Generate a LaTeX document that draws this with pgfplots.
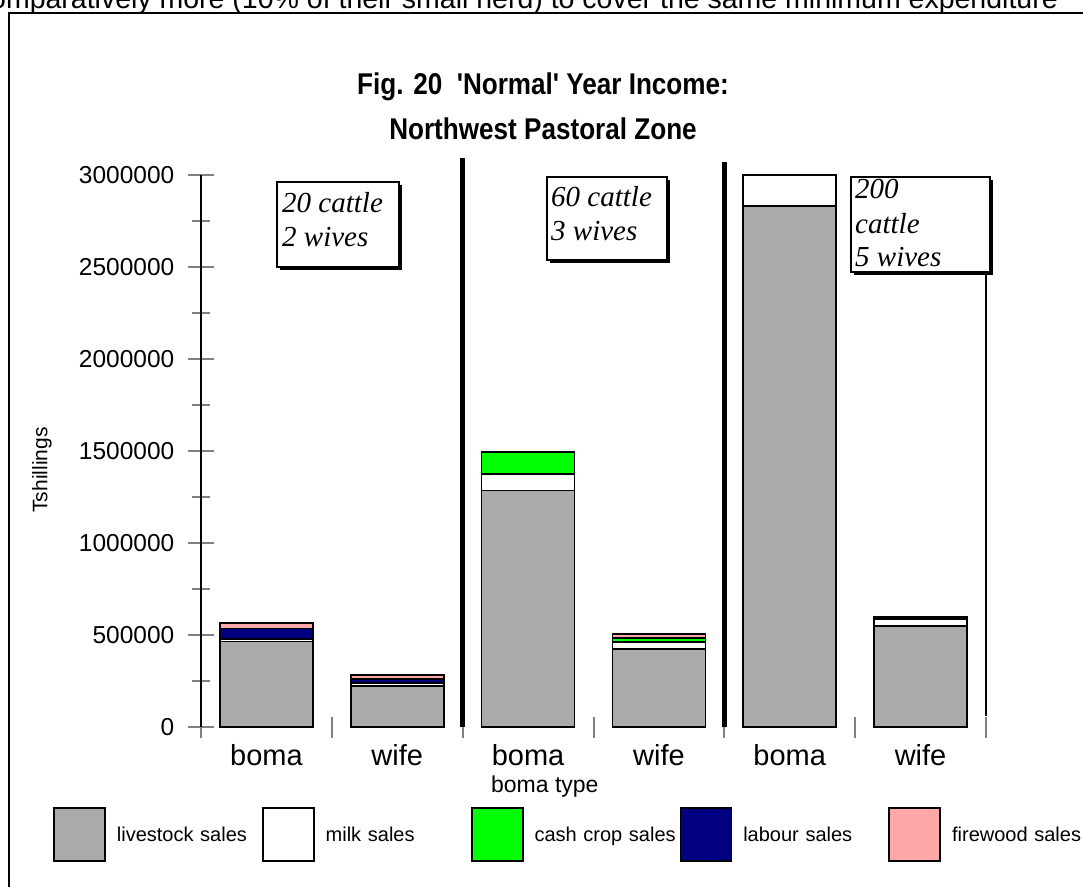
\documentclass[border=0pt]{standalone}
\usepackage{pgfplots}
\usepackage{pgfplotstable}
\pgfplotsset{compat=1.18}
\usepackage{fontspec}
\setmainfont{Liberation Sans}
\newfontfamily\serifit{Liberation Serif}
\definecolor{livegray}{HTML}{AAAAAA}
\definecolor{cashgreen}{HTML}{00FF00}
\definecolor{labnavy}{HTML}{000080}
\definecolor{firepink}{HTML}{FFA8A8}
\definecolor{tickgray}{HTML}{808080}
\pgfplotstableread{
x livestock milk cash labour firewood
0 465000 15000 0 55000 30000
1 225000 12000 0 25000 20000
2 1285000 90000 120000 0 0
3 425000 35000 22000 3000 20000
4 2830000 170000 0 0 0
5 550000 35000 0 15000 0
}\incomedata
\begin{document}
\begin{tikzpicture}[x=1pt,y=1pt]
\path[use as bounding box] (0,0) rectangle (1083,886);
\clip (0,0) rectangle (1083,886);
\node[anchor=base east, font=\fontsize{28.5}{32}\selectfont, inner sep=0pt] at (1058,877) {comparatively more (10\% of their small herd) to cover the same minimum expenditure};
\draw[line width=2.5pt] (9,-20) -- (9,873) -- (1100,873);
\begin{axis}[
  at={(201pt,159pt)}, anchor=south west, scale only axis,
  width=785pt, height=552pt,
  xmin=-0.5, xmax=5.5, ymin=0, ymax=3000000,
  ybar stacked, bar width=93pt,
  clip=false,
  axis lines=left, axis line style={-},
  x axis line style={draw=none},
  y axis line style={black, line width=1.6pt},
  xtick={-0.5,0.5,...,5.5},
  x tick label as interval,
  xticklabels={boma,wife,boma,wife,boma,wife},
  ytick={0,500000,...,3000000},
  minor y tick num=1,
  tick align=center,
  xtick style={tickgray, line width=2pt, /pgfplots/major tick length=21pt},
  ytick style={tickgray, line width=2pt},
  major tick length=25pt, minor tick length=17pt,
  scaled y ticks=false,
  yticklabel style={/pgf/number format/fixed, /pgf/number format/1000 sep={}, /pgf/number format/assume math mode=true,
    font=\fontsize{24.5}{28}\selectfont, anchor=east, inner sep=0pt, xshift=-14pt},
  xticklabel style={font=\fontsize{29}{33}\selectfont, anchor=base, inner sep=0pt, yshift=-26pt},
  xlabel={boma type},
  xlabel style={font=\fontsize{23}{27}\selectfont, at={(axis description cs:0.438,-0.108)}, anchor=center},
  ylabel={Tshillings},
  ylabel style={font=\fontsize{21}{25}\selectfont, at={(axis description cs:-0.2025,0.4656)}, anchor=center},
  title={Fig. 20 \ \textquotesingle Normal\textquotesingle\ Year Income:\\Northwest Pastoral Zone},
  title style={font=\bfseries\fontsize{30}{45}\selectfont, align=center, xscale=0.87, at={(axis description cs:0.4357,1.113)}, anchor=center},
  legend columns=5,
  legend cell align=left,
  legend image code/.code={\draw[#1, line width=1.8pt] (0pt,-26pt) rectangle (51pt,27pt);},
  legend style={draw=none, fill=none, inner sep=0pt, outer sep=0pt,
    at={(axis description cs:-0.1884,-0.1449)}, anchor=north west,
    font=\fontsize{20}{24}\selectfont,
    column sep=0pt,
    /tikz/every odd column/.append style={column sep=11pt},
    nodes={text width=145pt, inner xsep=0pt, align=left}},
]
\addplot[fill=livegray, draw=black, line width=1.8pt] table[x=x, y=livestock] {\incomedata};
\addlegendentry{livestock sales}
\addplot[fill=white, draw=black, line width=1.8pt] table[x=x, y=milk] {\incomedata};
\addlegendentry{milk sales}
\addplot[fill=cashgreen, draw=black, line width=1.8pt] table[x=x, y=cash] {\incomedata};
\addlegendentry{cash crop sales}
\addplot[fill=labnavy, draw=black, line width=1.8pt] table[x=x, y=labour] {\incomedata};
\addlegendentry{labour sales}
\addplot[fill=firepink, draw=black, line width=1.8pt] table[x=x, y=firewood] {\incomedata};
\addlegendentry{firewood sales}
\draw[line width=4.5pt] (axis cs:1.5,0) -- (axis cs:1.5,3090000);
\draw[line width=4.5pt] (axis cs:3.5,0) -- (axis cs:3.5,3070000);
\draw[line width=2pt] (axis cs:5.5,60000) -- (axis cs:5.5,2950000);
\end{axis}
% annotation boxes
\fill (280,616) rectangle (402,701);
\draw[fill=white, line width=1.8pt] (277,619) rectangle (399,704);
\node[anchor=base west, inner sep=0pt, font=\serifit\itshape\fontsize{29}{33}\selectfont] at (282,673) {20 cattle};
\node[anchor=base west, inner sep=0pt, font=\serifit\itshape\fontsize{29}{33}\selectfont] at (282,639) {2 wives};
\fill (550,623) rectangle (670,706);
\draw[fill=white, line width=1.8pt] (547,626) rectangle (667,709);
\node[anchor=base west, inner sep=0pt, font=\serifit\itshape\fontsize{29}{33}\selectfont] at (551,679) {60 cattle};
\node[anchor=base west, inner sep=0pt, font=\serifit\itshape\fontsize{29}{33}\selectfont] at (551,645) {3 wives};
\fill (854,611) rectangle (993,706);
\draw[fill=white, line width=1.8pt] (851,614) rectangle (990,709);
\node[anchor=base west, inner sep=0pt, font=\serifit\itshape\fontsize{29}{33}\selectfont] at (855,687) {200};
\node[anchor=base west, inner sep=0pt, font=\serifit\itshape\fontsize{29}{33}\selectfont] at (855,652) {cattle};
\node[anchor=base west, inner sep=0pt, font=\serifit\itshape\fontsize{29}{33}\selectfont] at (855,619) {5 wives};
\end{tikzpicture}
\end{document}
